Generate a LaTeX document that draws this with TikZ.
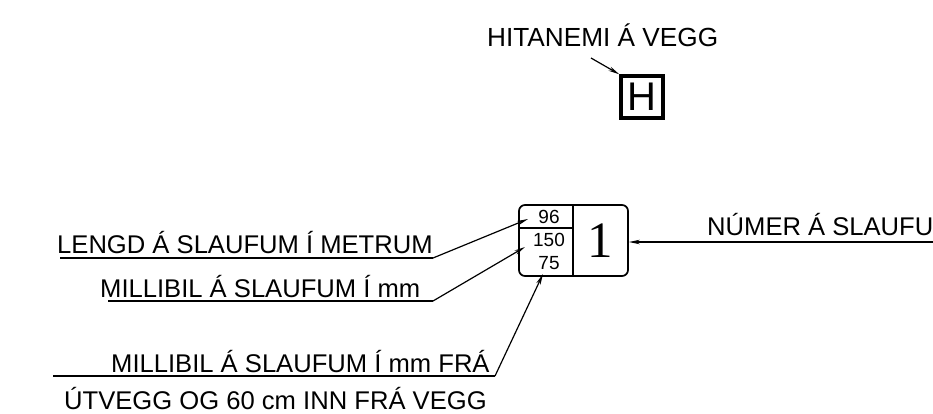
\documentclass[tikz,border=0pt]{standalone}
\usepackage{fontspec}
\setmainfont{Liberation Sans}
\newfontfamily\serifnum{Liberation Serif}
\usetikzlibrary{arrows.meta}
\begin{document}
\begin{tikzpicture}[x=1pt,y=-1pt,
  lbl/.style={inner sep=0pt,anchor=base west,font=\fontsize{25.6}{30}\selectfont},
  num/.style={inner sep=0pt,font=\fontsize{19}{20}\selectfont},
  leader/.style={line width=1.2pt},
  pointer/.style={line width=1.2pt,-{Stealth[length=11pt,width=4.5pt]}},
  frame/.style={line width=1.7pt}]
\useasboundingbox (0,0) rectangle (933,413);
% sensor
\node[lbl,font=\fontsize{26.2}{30}\selectfont] (hit) at (487,46) {HITANEMI Á VEGG};
\node[draw,line width=3.5pt,minimum width=42pt,minimum height=42pt,inner sep=0pt,
      font=\fontsize{40}{40}\selectfont] (hbox) at (642,97) {H};
\coordinate (hs) at (591,58);
\draw[pointer] (hs) -- (hbox.north west);
% loop box
\node[draw,frame,rounded corners=6pt,minimum width=109pt,minimum height=71pt,inner sep=0pt] (box) at (573.5,240.5) {};
\coordinate (divtop) at (573,205);
\coordinate (divbot) at (573,276);
\coordinate (hl) at (519,228);
\coordinate (hr) at (573,228);
\draw[frame] (divtop) -- (divbot);
\draw[frame] (hl) -- (hr);
\node[num] (n96) at (549,217) {96};
\node[num] (n150) at (549,240) {150};
\node[num] (n75) at (549,263) {75};
\node[inner sep=0pt,font=\serifnum\fontsize{51}{52}\selectfont] (one) at (600,241) {1};
% labels
\node[lbl] (lengd) at (57,253) {LENGD Á SLAUFUM Í METRUM};
\node[lbl] (mill) at (100,297) {MILLIBIL Á SLAUFUM Í mm};
\node[lbl] (millfra) at (111,372) {MILLIBIL Á SLAUFUM Í mm FRÁ};
\node[lbl] (utv) at (64,409) {ÚTVEGG OG 60 cm INN FRÁ VEGG};
\node[lbl] (numer) at (707,235) {NÚMER Á SLAUFU};
% leaders
\coordinate (u1s) at (60,258);  \coordinate (u1e) at (433,258);  \coordinate (t1) at (528,219);
\coordinate (u2s) at (108,301); \coordinate (u2e) at (433,301);  \coordinate (t2) at (525,247);
\coordinate (u3s) at (53,376);  \coordinate (u3e) at (495,376);  \coordinate (t3) at (543,274);
\coordinate (u4s) at (933,242);
\draw[leader] (u1s) -- (u1e);
\draw[pointer] (u1e) -- (t1);
\draw[leader] (u2s) -- (u2e);
\draw[pointer] (u2e) -- (t2);
\draw[leader] (u3s) -- (u3e);
\draw[pointer] (u3e) -- (t3);
\draw[pointer] (u4s) -- (box.east |- u4s);
\end{tikzpicture}
\end{document}
